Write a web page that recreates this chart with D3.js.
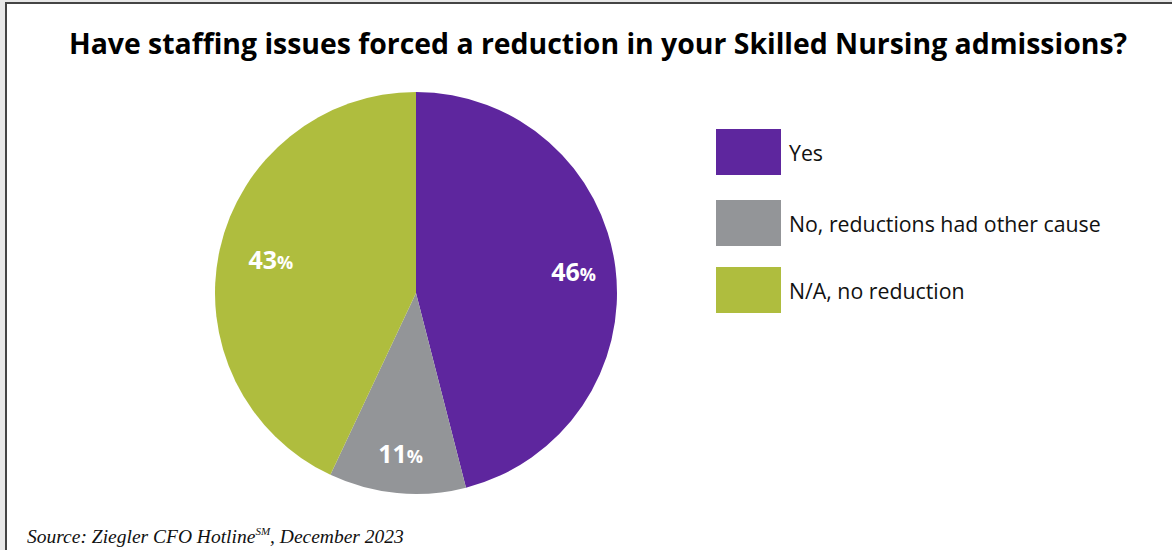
<!DOCTYPE html>
<html>
<head>
<meta charset="utf-8">
<script src="https://cdn.jsdelivr.net/npm/d3@7"></script>
<style>
  body { margin: 0; background: #fff; }
  svg { display: block; }
</style>
</head>
<body>
<svg id="chart" width="1172" height="550"></svg>
<script>
var categories = ["Yes", "No, reductions had other cause", "N/A, no reduction"];
var values = [46, 11, 43];
var colors = ["#5e269e", "#939598", "#afbd3e"];

var svg = d3.select("#chart");
var width = 1172, height = 550;

// frame like the original scan
svg.append("rect").attr("x", 0).attr("y", 0).attr("width", width).attr("height", height).attr("fill", "#e8e8e8");
svg.append("rect").attr("x", 5).attr("y", 2).attr("width", width - 5).attr("height", height - 2).attr("fill", "#444");
svg.append("rect").attr("x", 7).attr("y", 4).attr("width", width - 7).attr("height", height - 4).attr("fill", "#fff");

svg.append("text")
  .attr("x", 598)
  .attr("y", 54)
  .attr("text-anchor", "middle")
  .style("font-family", "'Open Sans', sans-serif")
  .style("font-weight", "bold")
  .style("font-size", "28.4px")
  .style("fill", "#000")
  .text("Have staffing issues forced a reduction in your Skilled Nursing admissions?");

var cx = 416, cy = 293, r = 201;

var pie = d3.pie().sort(null).value(function(d) { return d; });
var arcs = pie(values);
var arc = d3.arc().innerRadius(0).outerRadius(r);
// label distance from centre, as a share of the radius
var labelPos = [0.79, 0.81, 0.74];

var g = svg.append("g").attr("transform", "translate(" + cx + "," + cy + ")");

g.selectAll("path")
  .data(arcs)
  .enter().append("path")
  .attr("d", arc)
  .attr("fill", function(d, i) { return colors[i]; });

var labels = g.selectAll("text.pct")
  .data(arcs)
  .enter().append("text")
  .attr("class", "pct")
  .attr("transform", function(d, i) {
    var lr = r * labelPos[i];
    var c = d3.arc().innerRadius(lr).outerRadius(lr).centroid(d);
    return "translate(" + c[0] + "," + (c[1] + 8) + ")";
  })
  .attr("text-anchor", "middle")
  .style("font-family", "'Open Sans', sans-serif")
  .style("font-weight", "bold")
  .style("fill", "#fff");

labels.append("tspan")
  .style("font-size", "25px")
  .text(function(d) { return d.data; });
labels.append("tspan")
  .style("font-size", "18px")
  .text("%");

var legendY = [129, 200, 267];
var legend = svg.selectAll("g.legend")
  .data(categories)
  .enter().append("g")
  .attr("class", "legend")
  .attr("transform", function(d, i) { return "translate(716," + legendY[i] + ")"; });

legend.append("rect")
  .attr("width", 65)
  .attr("height", 46)
  .attr("fill", function(d, i) { return colors[i]; });

legend.append("text")
  .attr("x", 73)
  .attr("y", 32)
  .style("font-family", "'Open Sans', sans-serif")
  .style("font-size", "21.3px")
  .style("fill", "#111")
  .text(function(d) { return d; });

var source = svg.append("text")
  .attr("x", 27)
  .attr("y", 543)
  .style("font-family", "'Liberation Serif', serif")
  .style("font-style", "italic")
  .style("font-size", "19.5px")
  .style("fill", "#111");
source.append("tspan").text("Source: Ziegler CFO Hotline");
source.append("tspan").attr("dy", -8).style("font-size", "11px").text("SM");
source.append("tspan").attr("dy", 8).text(", December 2023");
</script>
</body>
</html>
